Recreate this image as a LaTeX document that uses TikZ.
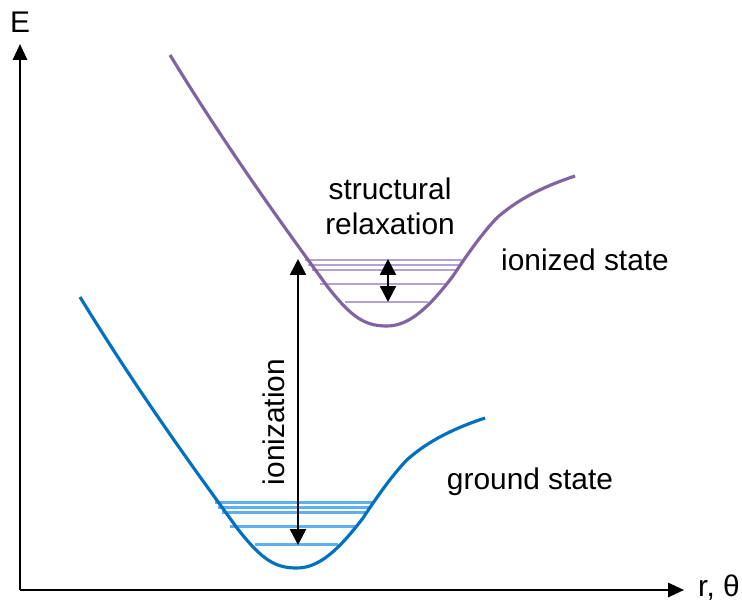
\documentclass[tikz,border=0pt]{standalone}
\usepackage{fontspec}
\setmainfont{Liberation Sans}
\usetikzlibrary{arrows.meta}
\definecolor{groundblue}{RGB}{0,112,192}
\definecolor{levelblue}{RGB}{95,175,240}
\definecolor{ionpurple}{RGB}{128,100,162}
\definecolor{levelpurple}{RGB}{182,162,208}

\begin{document}
\begin{tikzpicture}[x=0.02cm,y=-0.02cm,
    every node/.style={font=\fontsize{17}{20}\selectfont},
    axis/.style={line width=1.4pt,-{Triangle[length=9pt,width=8pt]}},
    well/.style={line width=1.8pt},
    level/.style={line width=1.7pt},
    transition/.style={line width=1.4pt,{Triangle[length=9pt,width=9pt]}-{Triangle[length=9pt,width=9pt]}}]
  \useasboundingbox (0,0) rectangle (742,601);
  % axes
  \coordinate (origin) at (20,590);
  \coordinate (etip) at (20,44);
  \coordinate (rtip) at (684,590);
  \draw[axis] (origin) -- (etip);
  \draw[axis] (origin) -- (rtip);
  \node (elabel) at (20,22) {E};
  \node[anchor=west] (rlabel) at (692,588) {r, θ};
  % potential wells: ground state, shifted copy for the ion
  \foreach \dx/\dy/\col/\lev in {0/0/groundblue/levelblue,90/-242/ionpurple/levelpurple}{
    \begin{scope}[shift={(\dx,\dy)}]
      \foreach \y/\a/\b in {502/215/372,507/218/370,512/222/365,526/230/357,544/255/338}
        \draw[\lev,level] (\a,\y) -- (\b,\y);
      \draw[\col,well] (80,297) .. controls (140,395) and (195,470) .. (237,528)
        .. controls (262,560) and (275,568) .. (297,568)
        .. controls (320,568) and (340,548) .. (363,518)
        .. controls (380,492) and (398,468) .. (409,458)
        .. controls (430,440) and (455,428) .. (485,418);
    \end{scope}
  }
  % transitions
  \coordinate (ionlow) at (298,545);
  \coordinate (ionhigh) at (298,259);
  \coordinate (relaxtop) at (388,259);
  \coordinate (relaxbot) at (388,302);
  \draw[transition] (ionlow) -- (ionhigh);
  \draw[transition] (relaxtop) -- (relaxbot);
  \node[rotate=90] (ionlabel) at (274,422) {ionization};
  \node[align=center] (relaxlabel) at (390,206) {structural\\relaxation};
  \node (ionstate) at (585,260) {ionized state};
  \node (groundstate) at (530,482) {ground state};
\end{tikzpicture}
\end{document}
